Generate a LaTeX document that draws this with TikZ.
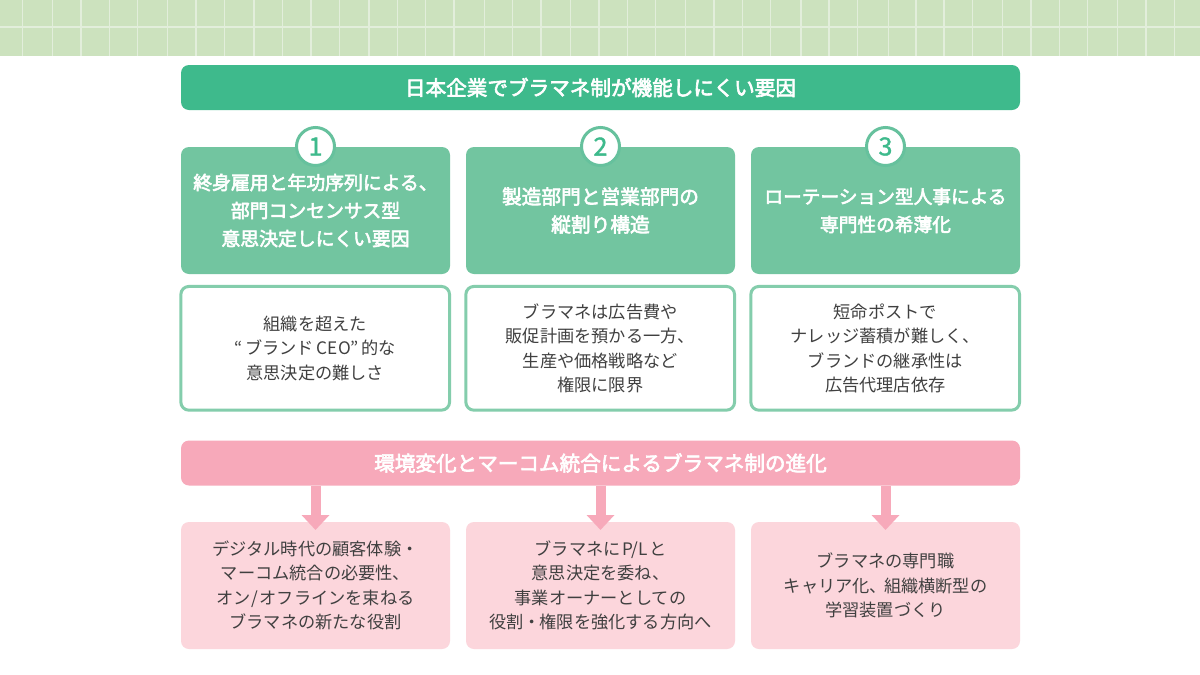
\documentclass[tikz,border=0pt]{standalone}
\usepackage{fontspec}
\setmainfont{Noto Sans CJK JP}
\newfontfamily\medfont[FakeBold=3]{Noto Sans CJK JP}
\newfontfamily\digitfont[FakeBold=1.5]{Noto Sans CJK JP}
\usetikzlibrary{arrows.meta}
\definecolor{band}{HTML}{CCE2BE}
\definecolor{bandline}{HTML}{E2EEDB}
\definecolor{titlegreen}{HTML}{3EBA8C}
\definecolor{headgreen}{HTML}{72C5A0}
\definecolor{ringgreen}{HTML}{66C19D}
\definecolor{outlinegreen}{HTML}{84CDAC}
\definecolor{titlepink}{HTML}{F7A9BA}
\definecolor{softpink}{HTML}{FCD6DC}
\definecolor{inktext}{HTML}{404040}
\newcommand{\tdot}{\kern-0.7pt・\kern-0.7pt}
\tikzset{
  x=1pt,y=-1pt,
  base/.style={rounded corners=8pt,minimum width=269pt,align=center,inner sep=0pt,outer sep=0pt},
  titlebar/.style={base,minimum width=839pt,minimum height=45pt,text=white,font=\medfont\fontsize{20.6}{24}\selectfont},
  headbox/.style={base,fill=headgreen,minimum height=127pt,text=white,font=\medfont\fontsize{18.85}{28}\selectfont},
  whitebox/.style={base,draw=outlinegreen,line width=3pt,fill=white,minimum width=268.7pt,minimum height=123.7pt,text=inktext,font=\fontsize{17.2}{24.5}\selectfont},
  pinkbox/.style={base,fill=softpink,minimum height=127pt,text=inktext,font=\fontsize{17.2}{24.3}\selectfont},
  badge/.style={circle,draw=ringgreen,line width=3pt,fill=white,minimum size=38pt,inner sep=0pt,text=titlegreen,font=\digitfont\fontsize{25}{25}\selectfont},
  downarrow/.style={draw=titlepink,line width=10pt,-{Triangle[width=27pt,length=15pt,fill=titlepink]}}
}
\begin{document}
\begin{tikzpicture}
\useasboundingbox (0,0) rectangle (1200,675);
\fill[white] (0,0) rectangle (1200,675);
\fill[band] (0,0) rectangle (1200,56);
\foreach \gx in {22.7,52.3,81,109.3,137.7,167.7,196,224.3,254,282.7,311,339.3,369,397.3,425.7,454,484.3,512.7,541,570.7,599,627.3,655.7,685.7,714,742.3,770.7,801,829,857.7,888.3,916,944,972.7,1002.7,1031,1059.3,1087.7,1117.7,1146,1174.3}{\draw[bandline,line width=1.3pt] (\gx,0) -- (\gx,56);}
\draw[bandline,line width=2pt] (0,26.5) -- (1200,26.5);

\node[titlebar,fill=titlegreen] (t1) at (600.5,87.5) {日本企業でブラマネ制が機能しにくい要因};

\node[headbox] (h1) at (315.5,210.5) {終身雇用と年功序列による、\\部門コンセンサス型\\意思決定しにくい要因};
\node[headbox,font=\medfont\fontsize{19.7}{28}\selectfont] (h2) at (600.5,210.5) {製造部門と営業部門の\\縦割り構造};
\node[headbox,font=\medfont\fontsize{18.7}{28}\selectfont] (h3) at (885.5,210.5) {ローテーション型人事による\\専門性の希薄化};

\node[badge] (b1) at (315.5,146.5) {1};
\node[badge] (b2) at (600.5,146.5) {2};
\node[badge] (b3) at (885.5,146.5) {3};

\node[whitebox] (w1) at (315.2,348.3) {組織を超えた\\“\,ブランド\,CEO”\,的な\\意思決定の難しさ};
\node[whitebox] (w2) at (600.2,348.3) {ブラマネは広告費や\\販促計画を預かる一方、\\生産や価格戦略など\\権限に限界};
\node[whitebox] (w3) at (885.2,348.3) {短命ポストで\\ナレッジ蓄積が難しく、\\ブランドの継承性は\\広告代理店依存};

\node[titlebar,fill=titlepink] (t2) at (600.5,463) {環境変化とマーコム統合によるブラマネ制の進化};

\node[pinkbox] (p1) at (315.5,585.5) {デジタル時代の顧客体験・\\マーコム統合の必要性、\\オン\kern1pt/\kern1pt オフラインを束ねる\\ブラマネの新たな役割};
\node[pinkbox] (p2) at (600.5,585.5) {ブラマネに\kern1.5pt P/L\kern1.5pt と\\意思決定を委ね、\\事業オーナーとしての\\役割\tdot 権限を強化する方向へ};
\node[pinkbox] (p3) at (885.5,585.5) {ブラマネの専門職\\キャリア化、\kern-3pt 組織横断型の\\学習装置づくり};

\foreach \n in {1,2,3}{
  \draw[downarrow] (t2.south -| p\n.north) -- ([yshift=-8pt]p\n.north);
}
\end{tikzpicture}
\end{document}
